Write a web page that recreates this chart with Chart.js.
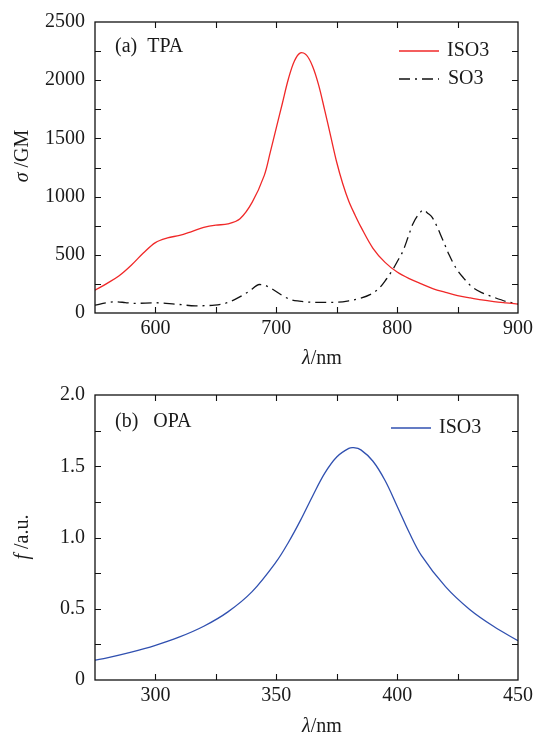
<!DOCTYPE html>
<html>
<head>
<meta charset="utf-8">
<script src="https://cdn.jsdelivr.net/npm/chart.js@4.4.1/dist/chart.umd.min.js"></script>
<style>
  body { margin: 0; background: #fff; }
  canvas { display: block; }
</style>
</head>
<body>
<canvas id="tpaChart" width="537" height="369"></canvas>
<canvas id="opaChart" width="537" height="369"></canvas>
<script>
// (a) TPA, ISO3
const tpaIsoWavelength = [550, 560, 570, 580, 590, 600, 610, 620, 630, 640, 650, 660, 670, 680, 690, 695, 700, 705, 710, 715, 720, 725, 730, 735, 740, 745, 750, 755, 760, 765, 770, 780, 790, 800, 810, 820, 830, 840, 850, 860, 870, 880, 890, 900];
const tpaIso3 = [196, 255, 320, 410, 515, 605, 645, 667, 700, 735, 755, 765, 810, 950, 1180, 1380, 1590, 1800, 2010, 2165, 2235, 2215, 2120, 1960, 1745, 1520, 1295, 1110, 960, 845, 740, 556, 435, 352, 295, 250, 208, 178, 150, 130, 112, 98, 87, 77];
// (a) TPA, SO3
const tpaSoWavelength = [550, 560, 567, 575, 583, 600, 616, 633, 649, 660, 669, 678, 686, 690, 696, 705, 712, 719, 730, 747, 760, 769, 778, 785, 791, 796, 800, 805, 809, 813, 818, 822, 825, 829, 838, 843, 849, 855, 862, 870, 879, 890, 900];
const tpaSo3 = [68, 88, 96, 90, 83, 88, 77, 62, 68, 90, 134, 190, 245, 240, 210, 150, 115, 102, 92, 91, 105, 125, 160, 211, 290, 367, 440, 537, 650, 765, 850, 885, 860, 822, 623, 500, 381, 300, 224, 175, 139, 100, 77];
// (b) OPA, ISO3
const opaWavelength = [275, 280, 290, 300, 310, 320, 330, 340, 350, 355, 360, 365, 370, 375, 380, 382, 385, 390, 395, 400, 405, 410, 420, 430, 440, 450];
const opaIso3 = [0.14, 0.155, 0.195, 0.243, 0.302, 0.377, 0.478, 0.62, 0.83, 0.965, 1.12, 1.29, 1.45, 1.565, 1.625, 1.63, 1.615, 1.535, 1.40, 1.22, 1.035, 0.875, 0.655, 0.495, 0.375, 0.275];

const tpaXLabels = [600, 700, 800, 900];
const tpaYLabels = [0, 500, 1000, 1500, 2000, 2500];
const tpaXMarks = [600, 650, 700, 750, 800, 850];
const tpaYMarks = [250, 500, 750, 1000, 1250, 1500, 1750, 2000, 2250];
const opaXLabels = [300, 350, 400, 450];
const opaYLabels = [0, 0.5, 1.0, 1.5, 2.0];
const opaXMarks = [300, 325, 350, 375, 400, 425];
const opaYMarks = [0.25, 0.5, 0.75, 1.0, 1.25, 1.5, 1.75];

const serif = "'Liberation Serif', 'DejaVu Serif', serif";
const FS = 20;

function pairs(xs, ys) {
  return xs.map((x, i) => ({ x: x, y: ys[i] }));
}

// draw a run of text pieces, some italic, centred on x
function drawParts(ctx, parts, x, y) {
  let total = 0;
  parts.forEach(p => {
    ctx.font = (p.it ? 'italic ' : '') + FS + 'px ' + serif;
    p.w = ctx.measureText(p.t).width;
    total += p.w;
  });
  let cx = x - total / 2;
  ctx.textAlign = 'left';
  ctx.textBaseline = 'middle';
  parts.forEach(p => {
    ctx.font = (p.it ? 'italic ' : '') + FS + 'px ' + serif;
    ctx.fillText(p.t, cx, y);
    cx += p.w;
  });
}

const framePlugin = {
  id: 'frame',
  afterDatasetsDraw(chart, args, o) {
    const ctx = chart.ctx;
    const a = chart.chartArea;
    const sx = chart.scales.x, sy = chart.scales.y;
    ctx.save();
    ctx.strokeStyle = '#111';
    ctx.lineWidth = 1.3;
    ctx.setLineDash([]);
    ctx.strokeRect(a.left, a.top, a.right - a.left, a.bottom - a.top);
    ctx.lineWidth = 1.1;
    ctx.beginPath();
    o.xMarks.forEach(v => {
      const px = Math.round(sx.getPixelForValue(v)) + 0.5;
      ctx.moveTo(px, a.bottom); ctx.lineTo(px, a.bottom - 6);
      ctx.moveTo(px, a.top); ctx.lineTo(px, a.top + 6);
    });
    o.yMarks.forEach(v => {
      const py = Math.round(sy.getPixelForValue(v)) + 0.5;
      ctx.moveTo(a.left, py); ctx.lineTo(a.left + 6, py);
      ctx.moveTo(a.right, py); ctx.lineTo(a.right - 6, py);
    });
    ctx.stroke();

    ctx.fillStyle = '#1a1a1a';
    // axis titles
    drawParts(ctx, o.xTitle, o.xTitlePos[0], o.xTitlePos[1]);
    ctx.save();
    ctx.translate(o.yTitlePos[0], o.yTitlePos[1]);
    ctx.rotate(-Math.PI / 2);
    drawParts(ctx, o.yTitle, 0, 0);
    ctx.restore();

    // panel label
    ctx.font = FS + 'px ' + serif;
    ctx.textAlign = 'left';
    ctx.textBaseline = 'middle';
    ctx.fillText(o.panel, o.panelPos[0], o.panelPos[1]);

    // legend
    chart.data.datasets.forEach((ds, i) => {
      const ly = o.legendPos[1] + i * 28;
      ctx.strokeStyle = ds.borderColor;
      ctx.lineWidth = ds.borderWidth;
      ctx.setLineDash(ds.borderDash || []);
      ctx.beginPath();
      ctx.moveTo(o.legendPos[0], ly);
      ctx.lineTo(o.legendPos[0] + 40, ly);
      ctx.stroke();
      ctx.setLineDash([]);
      ctx.fillStyle = '#1a1a1a';
      ctx.font = FS + 'px ' + serif;
      ctx.fillText(ds.label, o.legendPos[0] + 48 + (ds.textShift || 0), ly);
    });
    ctx.restore();
  }
};

function makeChart(id, datasets, cfg) {
  const ctx = document.getElementById(id).getContext('2d');
  return new Chart(ctx, {
    type: 'line',
    data: { datasets: datasets },
    plugins: [framePlugin],
    options: {
      responsive: false,
      animation: false,
      devicePixelRatio: 1,
      layout: { padding: { top: cfg.top, right: cfg.right, left: 0, bottom: 0 } },
      elements: { point: { radius: 0 } },
      plugins: {
        legend: { display: false },
        tooltip: { enabled: false },
        frame: cfg.frame
      },
      scales: {
        x: {
          type: 'linear',
          min: cfg.xMin, max: cfg.xMax,
          grid: { display: false, drawTicks: false },
          border: { display: false },
          afterBuildTicks: s => { s.ticks = cfg.xLabels.map(v => ({ value: v })); },
          afterFit: s => { s.height = cfg.xHeight; },
          ticks: { padding: 4, color: '#1a1a1a', font: { family: serif, size: FS }, maxRotation: 0 }
        },
        y: {
          min: cfg.yMin, max: cfg.yMax,
          grid: { display: false, drawTicks: false },
          border: { display: false },
          afterBuildTicks: s => { s.ticks = cfg.yLabels.map(v => ({ value: v })); },
          afterFit: s => { s.width = 95; },
          ticks: { padding: 10, color: '#1a1a1a', font: { family: serif, size: FS }, callback: cfg.yFormat }
        }
      }
    }
  });
}

makeChart('tpaChart', [
  { label: 'ISO3', data: pairs(tpaIsoWavelength, tpaIso3), borderColor: '#f02828', borderWidth: 1.3, tension: 0.35, fill: false },
  { label: 'SO3', data: pairs(tpaSoWavelength, tpaSo3), borderColor: '#111', borderWidth: 1.3, borderDash: [11, 5, 2, 5], cubicInterpolationMode: 'monotone', fill: false, textShift: 1 }
], {
  top: 20, right: 18, xHeight: 56,
  xMin: 550, xMax: 900, yMin: 0, yMax: 2500,
  xLabels: tpaXLabels, yLabels: tpaYLabels,
  yFormat: v => String(v),
  frame: {
    xMarks: tpaXMarks, yMarks: tpaYMarks,
    xTitle: [{ t: 'λ', it: true }, { t: '/nm' }], xTitlePos: [322, 359],
    yTitle: [{ t: 'σ', it: true }, { t: ' /GM' }], yTitlePos: [23, 156],
    panel: '(a)  TPA', panelPos: [115, 47],
    legendPos: [399, 51]
  }
});

makeChart('opaChart', [
  { label: 'ISO3', data: pairs(opaWavelength, opaIso3), borderColor: '#3050b0', borderWidth: 1.3, tension: 0.35, fill: false }
], {
  top: 26, right: 19, xHeight: 58,
  xMin: 275, xMax: 450, yMin: 0, yMax: 2.0,
  xLabels: opaXLabels, yLabels: opaYLabels,
  yFormat: v => (v === 0 ? '0' : v.toFixed(1)),
  frame: {
    xMarks: opaXMarks, yMarks: opaYMarks,
    xTitle: [{ t: 'λ', it: true }, { t: '/nm' }], xTitlePos: [322, 358],
    yTitle: [{ t: 'f', it: true }, { t: ' /a.u.' }], yTitlePos: [23, 168],
    panel: '(b)   OPA', panelPos: [115, 53],
    legendPos: [391, 59]
  }
});
</script>
</body>
</html>
